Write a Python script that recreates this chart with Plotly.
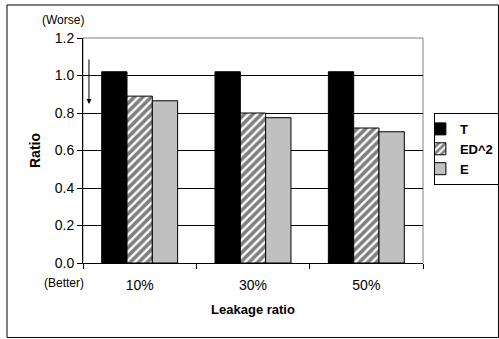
import plotly.graph_objects as go

categories = ["10%", "30%", "50%"]
series_names = ["T", "ED^2", "E"]
T_vals = [1.02, 1.02, 1.02]
ED2_vals = [0.89, 0.80, 0.72]
E_vals = [0.865, 0.775, 0.70]
y_ticks = [0.0, 0.2, 0.4, 0.6, 0.8, 1.0, 1.2]
y_tick_text = ["0.0", "0.2", "0.4", "0.6", "0.8", "1.0", "1.2"]

FONT = "Liberation Sans, Arial, sans-serif"

fig = go.Figure()
fig.add_trace(go.Bar(name=series_names[0], x=categories, y=T_vals,
                     marker=dict(color="black", line=dict(color="black", width=1))))
fig.add_trace(go.Bar(name=series_names[1], x=categories, y=ED2_vals,
                     marker=dict(color="white", line=dict(color="black", width=1),
                                 pattern=dict(shape="/", fgcolor="black", bgcolor="white",
                                              size=6, solidity=0.6))))
fig.add_trace(go.Bar(name=series_names[2], x=categories, y=E_vals,
                     marker=dict(color="#c0c0c0", line=dict(color="black", width=1))))

fig.update_layout(
    width=499, height=339,
    margin=dict(l=83, r=76, t=38, b=76, autoexpand=False),
    paper_bgcolor="white", plot_bgcolor="white",
    barmode="group", bargap=0.33, bargroupgap=0,
    font=dict(family=FONT, size=13, color="black"),
    showlegend=True,
    legend=dict(x=1.032, y=0.667, xanchor="left", yanchor="top",
                bordercolor="black", borderwidth=1, bgcolor="white",
                font=dict(family=FONT, size=13, color="black", weight="bold"),
                tracegroupgap=0, itemwidth=30, indentation=-15),
    xaxis=dict(type="category", tickson="boundaries", ticks="outside", ticklen=5,
               tickcolor="black", showline=True, linecolor="black", linewidth=1,
               tickfont=dict(size=14), automargin=False, ticklabelstandoff=9,
               title=dict(text="<b>Leakage ratio</b>", font=dict(size=13), standoff=13)),
    yaxis=dict(range=[0, 1.2], tickvals=y_ticks, ticktext=y_tick_text,
               ticks="outside", ticklen=5, tickcolor="black", automargin=False,
               showline=True, linecolor="black", linewidth=1,
               showgrid=True, gridcolor="black", gridwidth=1,
               tickfont=dict(size=14),
               title=dict(text="<b>Ratio</b>", font=dict(size=14), standoff=10)),
)

# plot area border (gray top/right)
fig.add_shape(type="rect", xref="paper", yref="paper", x0=0, y0=0, x1=1, y1=1,
              line=dict(color="#808080", width=1), layer="below")
# outer chart border
fig.add_shape(type="rect", xref="paper", yref="paper",
              x0=-0.2235, y0=-0.331, x1=1.222, y1=1.1467,
              line=dict(color="black", width=1))

fig.add_annotation(text="(Worse)", xref="paper", yref="paper",
                   x=0.009, y=1.08, xanchor="right", yanchor="middle",
                   showarrow=False, font=dict(size=12))
fig.add_annotation(text="(Better)", xref="paper", yref="paper",
                   x=0.009, y=-0.09, xanchor="right", yanchor="middle",
                   showarrow=False, font=dict(size=12))
fig.add_annotation(text="", xref="paper", yref="y", x=0.0176, y=0.848,
                   ax=0, ay=-46, showarrow=True, arrowhead=2, arrowsize=1,
                   arrowwidth=1, arrowcolor="black")

fig.write_html("out.html", config={"displayModeBar": False},
               post_script="document.body.style.margin='0';document.body.style.padding='0';")
